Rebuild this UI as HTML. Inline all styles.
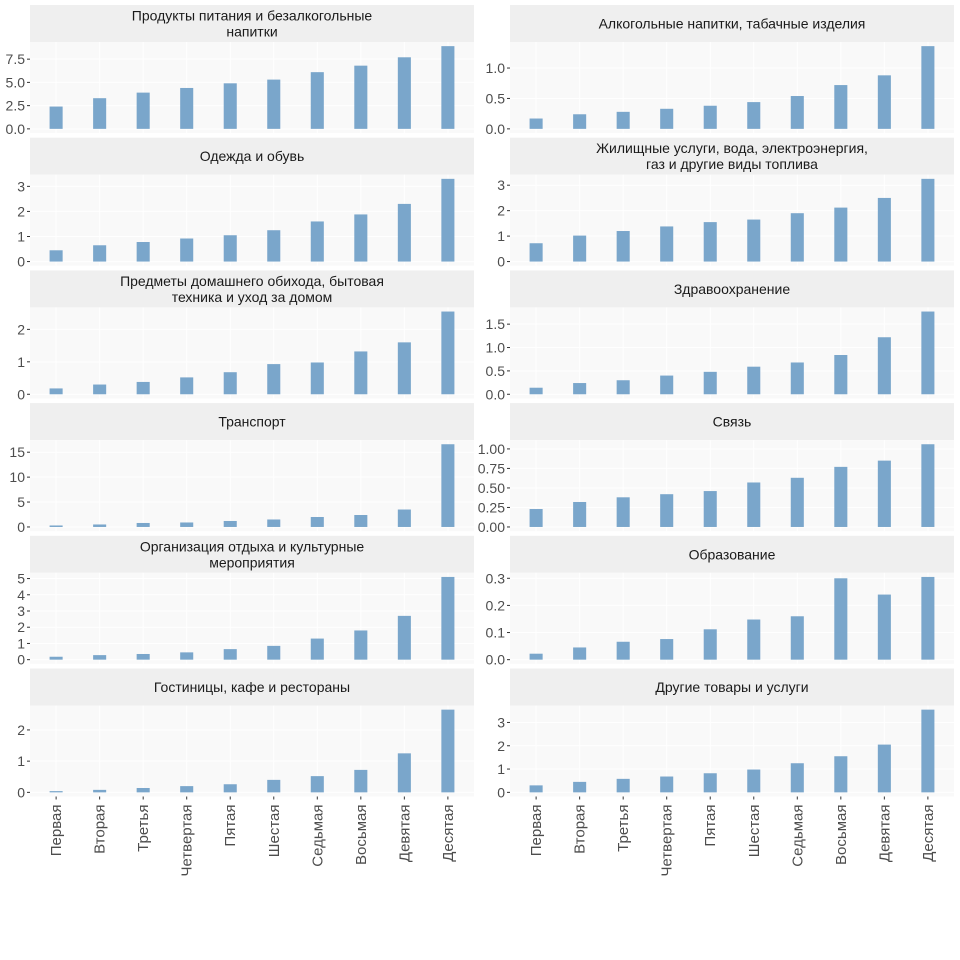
<!DOCTYPE html>
<html><head><meta charset="utf-8"><style>
html,body{margin:0;padding:0;background:#fff;}
svg{display:block;font-family:"Liberation Sans",sans-serif;}
</style></head><body>
<svg id="chart" width="960" height="960"></svg>
<script>
const categories = ["Первая","Вторая","Третья","Четвертая","Пятая","Шестая","Седьмая","Восьмая","Девятая","Десятая"];
const titles = [
 ["Продукты питания и безалкогольные","напитки"],
 ["Алкогольные напитки, табачные изделия"],
 ["Одежда и обувь"],
 ["Жилищные услуги, вода, электроэнергия,","газ и другие виды топлива"],
 ["Предметы домашнего обихода, бытовая","техника и уход за домом"],
 ["Здравоохранение"],
 ["Транспорт"],
 ["Связь"],
 ["Организация отдыха и культурные","мероприятия"],
 ["Образование"],
 ["Гостиницы, кафе и рестораны"],
 ["Другие товары и услуги"]
];
const foodValues = [2.4,3.3,3.9,4.4,4.9,5.3,6.1,6.8,7.7,8.9];
const alcoholValues = [0.17,0.24,0.28,0.33,0.38,0.44,0.54,0.72,0.88,1.36];
const clothingValues = [0.45,0.65,0.78,0.92,1.05,1.25,1.6,1.88,2.3,3.3];
const housingValues = [0.72,1.02,1.2,1.38,1.55,1.65,1.9,2.12,2.5,3.25];
const householdValues = [0.18,0.3,0.38,0.52,0.68,0.93,0.98,1.32,1.6,2.55];
const healthValues = [0.14,0.24,0.3,0.4,0.48,0.59,0.68,0.84,1.22,1.77];
const transportValues = [0.3,0.5,0.8,0.9,1.2,1.5,2.0,2.4,3.5,16.6];
const commValues = [0.23,0.32,0.38,0.42,0.46,0.57,0.63,0.77,0.85,1.06];
const recreationValues = [0.18,0.28,0.35,0.45,0.65,0.85,1.3,1.8,2.7,5.1];
const educationValues = [0.022,0.045,0.066,0.076,0.112,0.148,0.16,0.3,0.24,0.305];
const hotelValues = [0.04,0.08,0.14,0.2,0.26,0.4,0.52,0.72,1.25,2.65];
const otherValues = [0.3,0.45,0.58,0.68,0.82,0.98,1.25,1.55,2.05,3.55];
const seriesList = [foodValues,alcoholValues,clothingValues,housingValues,householdValues,healthValues,transportValues,commValues,recreationValues,educationValues,hotelValues,otherValues];
const tickLabels = [
 ["0.0","2.5","5.0","7.5"],["0.0","0.5","1.0"],["0","1","2","3"],["0","1","2","3"],
 ["0","1","2"],["0.0","0.5","1.0","1.5"],["0","5","10","15"],["0.00","0.25","0.50","0.75","1.00"],
 ["0","1","2","3","4","5"],["0.0","0.1","0.2","0.3"],["0","1","2"],["0","1","2","3"]
];
const NS="http://www.w3.org/2000/svg";
const svg=document.getElementById('chart');
function mk(tag,attrs,parent){const e=document.createElementNS(NS,tag);for(const k in attrs)e.setAttribute(k,attrs[k]);(parent||svg).appendChild(e);return e;}
const colX=[30,510], panelW=444, rowY0=5, pitch=132.7, stripH=37, plotH=91;
seriesList.forEach((vals,i)=>{
  const col=i%2,row=Math.floor(i/2);
  const x0=colX[col], sy=rowY0+row*pitch, py=sy+stripH, pb=py+plotH;
  const g=mk('g',{});
  
  
  const st=mk('rect',{x:x0,y:sy,width:panelW,height:stripH,fill:'#efefef'},g);
  
  
  const lines=titles[i];
  lines.forEach((t,k)=>{
    const ty=sy+stripH/2+5+(lines.length===2?(k===0?-8:8):0);
    const te=mk('text',{x:x0+panelW/2,y:ty,'text-anchor':'middle','font-size':14,fill:'#1a1a1a'},g);
    te.textContent=t;
    
    
  });
  const bg=mk('rect',{x:x0,y:py,width:panelW,height:plotH,fill:'#f9f9f9'},g);
  
  
  const maxV=Math.max(...vals, ...tickLabels[i].map(Number));
  const top=Math.max(...vals);
  const lo=-0.05*top, hi=top*1.05;
  const yS=v=>pb-(v-lo)/(hi-lo)*plotH;
  const unit=panelW/10.2;
  const xS=j=>x0+(j+1-0.4)*unit;
  categories.forEach((c,j)=>{mk('line',{x1:xS(j),x2:xS(j),y1:py,y2:pb,stroke:'#fff','stroke-width':1},g);});
  tickLabels[i].forEach(tl=>{
    const v=Number(tl), y=yS(v);
    mk('line',{x1:x0,x2:x0+panelW,y1:y,y2:y,stroke:'#fff','stroke-width':1},g);
    mk('line',{x1:x0-3,x2:x0,y1:y,y2:y,stroke:'#333','stroke-width':1},g);
    const te=mk('text',{x:x0-5,y:y+5,'text-anchor':'end','font-size':14,fill:'#4d4d4d'},g);
    te.textContent=tl;
    
    
  });
  vals.forEach((v,j)=>{
    const b=mk('rect',{x:xS(j)-unit*0.15,y:yS(v),width:unit*0.3,height:yS(0)-yS(v),fill:'#7aa6cb'},g);
    
    
  });
  if(row===5){
    categories.forEach((c,j)=>{
      mk('line',{x1:xS(j),x2:xS(j),y1:pb,y2:pb+3,stroke:'#333','stroke-width':1},g);
      const te=mk('text',{x:0,y:0,'text-anchor':'end','font-size':15,fill:'#4d4d4d',transform:`translate(${xS(j)+5},${pb+8}) rotate(-90)`},g);
      te.textContent=c;
      
      
    });
  }
});
</script>
</body></html>
